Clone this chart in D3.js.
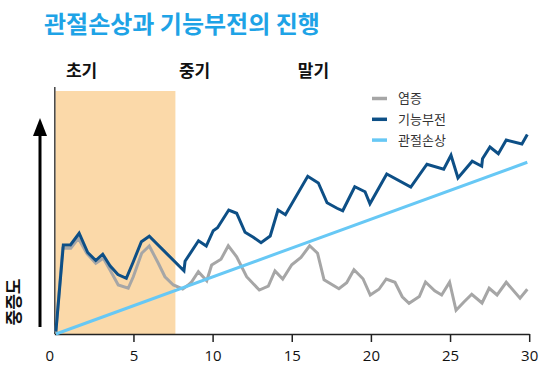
<!DOCTYPE html>
<html>
<head>
<meta charset="utf-8">
<script src="https://cdn.jsdelivr.net/npm/d3@7"></script>
<style>
  body { margin: 0; background: #fff; }
  svg { display: block; }
</style>
</head>
<body>
<svg width="549" height="369"></svg>
<script>
// chart data
var title = "관절손상과 기능부전의 진행";
var phaseLabels = ["초기", "중기", "말기"];
var phaseLabelX = [1.72, 8.86, 16.37];
var earlyPhaseEnd = 7.65;
var xTicks = [0, 5, 10, 15, 20, 25, 30];
var seriesNames = ["염증", "기능부전", "관절손상"];

// 기능부전 (dark blue)
var dysfunctionX = [0.1, 0.57, 1.02, 1.57, 2.11, 2.62, 3.06, 3.52, 4.02, 4.55, 4.99, 5.5, 6.0,
  8.19, 8.26, 9.11, 9.6, 10.04, 10.31, 11.02, 11.52, 12.05, 12.57, 13.06, 13.64, 14.13, 14.6,
  16.01, 16.68, 17.23, 17.86, 18.22, 18.98, 19.63, 19.94, 21.0, 22.52, 23.54, 24.6, 25.06,
  25.5, 26.4, 27.0, 27.05, 27.52, 28.05, 28.55, 29.54, 29.88];
var dysfunctionY = [1, 35.6, 35.6, 40.3, 32.6, 29.4, 31.9, 27.3, 23.8, 22.3, 28.9, 36.9, 39.1,
  25.3, 29.1, 37.3, 35.2, 41.3, 42.5, 49.6, 48.3, 40.7, 38.7, 36.5, 39.2, 49.6, 47.7,
  63.1, 60.4, 52.5, 50.3, 49.3, 58.9, 56.9, 52.1, 64.0, 58.8, 67.9, 65.9, 71.5,
  62.4, 69.1, 67.1, 70.1, 74.8, 72.1, 77.6, 76.0, 79.8];

// 염증 (gray)
var inflammationX = [0.1, 0.53, 1.04, 1.52, 2.05, 2.62, 3.1, 3.52, 4.04, 4.67, 4.99, 5.52, 6.0,
  6.57, 6.99, 7.52, 8.11, 8.46, 8.68, 9.1, 9.63, 9.94, 10.53, 10.99, 11.52, 12.15, 12.95, 13.52,
  13.94, 14.43, 15.0, 15.58, 16.13, 16.63, 17.04, 17.98, 18.47, 18.93, 19.5, 19.96, 20.51,
  20.97, 21.52, 21.98, 22.41, 23.06, 23.45, 24.03, 24.47, 24.97, 25.38, 25.86, 26.37, 27.02,
  27.47, 27.97, 28.55, 29.42, 29.88];
var inflammationY = [1, 34.3, 34.3, 38.3, 32.3, 28.3, 30.3, 25.6, 19.6, 18.3, 22.9, 32.3, 35.2,
  28.3, 22.9, 19.6, 18.0, 19.6, 20.9, 24.9, 21.3, 27.6, 29.9, 35.3, 30.9, 22.9, 17.6, 19.2,
  25.2, 22.0, 27.7, 30.6, 35.3, 32.3, 21.7, 18.1, 20.5, 25.7, 22.1, 15.6, 17.9,
  22.0, 20.7, 14.9, 12.3, 15.0, 20.8, 17.3, 15.6, 20.7, 9.5, 12.7, 15.9, 12.4,
  18.3, 15.6, 20.7, 14.3, 17.9];

// 관절손상 (light blue)
var damageX = [0.1, 29.88];
var damageY = [0, 68.7];

var colors = ["#a6a6a6", "#0d4f86", "#67c8f5"];

var svg = d3.select("svg"),
  fontKo = "'Noto Sans CJK KR', 'Noto Sans', sans-serif";

var x = d3.scaleLinear().domain([0, 30]).range([54.3, 529.2]);
var y = d3.scaleLinear().domain([0, 100]).range([334, 84]);

// title
svg.append("text")
  .attr("x", 44)
  .attr("y", 33)
  .attr("font-family", fontKo)
  .attr("font-weight", "bold")
  .attr("font-size", 24)
  .attr("fill", "#1ea3e6")
  .text(title);

// early phase shading
svg.append("rect")
  .attr("x", x(0) + 1)
  .attr("y", y(97.2))
  .attr("width", x(earlyPhaseEnd) - x(0) - 1)
  .attr("height", y(0) - y(97.2))
  .attr("fill", "#fbd9a9");

// phase labels
svg.selectAll(".phase")
  .data(phaseLabels)
  .enter()
  .append("text")
  .attr("class", "phase")
  .attr("x", (d, i) => x(phaseLabelX[i]))
  .attr("y", 77)
  .attr("text-anchor", "middle")
  .attr("font-family", fontKo)
  .attr("font-weight", "bold")
  .attr("font-size", 17)
  .attr("fill", "#111")
  .text((d) => d);

// axes
svg.append("line")
  .attr("x1", x(0) + 0.5).attr("x2", x(0) + 0.5)
  .attr("y1", 87).attr("y2", y(0))
  .attr("stroke", "#444").attr("stroke-width", 1.5);

var xAxis = svg.append("g")
  .attr("transform", "translate(0," + y(0) + ")")
  .call(d3.axisBottom(x).tickValues(xTicks).tickSize(8).tickSizeOuter(0).tickPadding(8));
xAxis.select(".domain").attr("stroke", "#222").attr("stroke-width", 1.5);
xAxis.selectAll(".tick line")
  .attr("stroke", "#222").attr("stroke-width", 1.5)
  .filter((d) => d === 0).remove();
xAxis.selectAll(".tick text")
  .attr("font-family", "'Open Sans', sans-serif")
  .attr("font-size", 15)
  .attr("fill", "#111")
  .attr("dx", (d) => (d === 0 ? -5 : 0));

// y label and arrow
svg.append("path")
  .attr("d", "M40,327 L40,134")
  .attr("stroke", "#000")
  .attr("stroke-width", 3);
svg.append("path")
  .attr("d", "M33,136 L40,118 L47,136 Z")
  .attr("fill", "#000");

svg.append("text")
  .attr("transform", "translate(19.5,302) rotate(-90)")
  .attr("text-anchor", "middle")
  .attr("font-family", fontKo)
  .attr("font-weight", "bold")
  .attr("font-size", 17)
  .attr("fill", "#111")
  .text("중증도");

// lines
var line = d3.line()
  .x((d) => x(d[0]))
  .y((d) => y(d[1]))
  .curve(d3.curveLinear);

var series = [
  d3.zip(inflammationX, inflammationY),
  d3.zip(damageX, damageY),
  d3.zip(dysfunctionX, dysfunctionY)
];
var seriesColor = [colors[0], colors[2], colors[1]];

svg.selectAll(".series")
  .data(series)
  .enter()
  .append("path")
  .attr("class", "series")
  .attr("d", line)
  .attr("fill", "none")
  .attr("stroke", (d, i) => seriesColor[i])
  .attr("stroke-width", 3)
  .attr("stroke-linejoin", "miter");

// legend
var legend = svg.selectAll(".legend")
  .data(seriesNames)
  .enter()
  .append("g")
  .attr("class", "legend")
  .attr("transform", (d, i) => "translate(372," + (98.5 + i * 20.8) + ")");

legend.append("line")
  .attr("x1", 0).attr("x2", 15)
  .attr("stroke", (d, i) => colors[i])
  .attr("stroke-width", 3.5);

legend.append("text")
  .attr("x", 26)
  .attr("dy", "0.35em")
  .attr("font-family", fontKo)
  .attr("font-size", 13)
  .attr("fill", "#333")
  .text((d) => d);
</script>
</body>
</html>
